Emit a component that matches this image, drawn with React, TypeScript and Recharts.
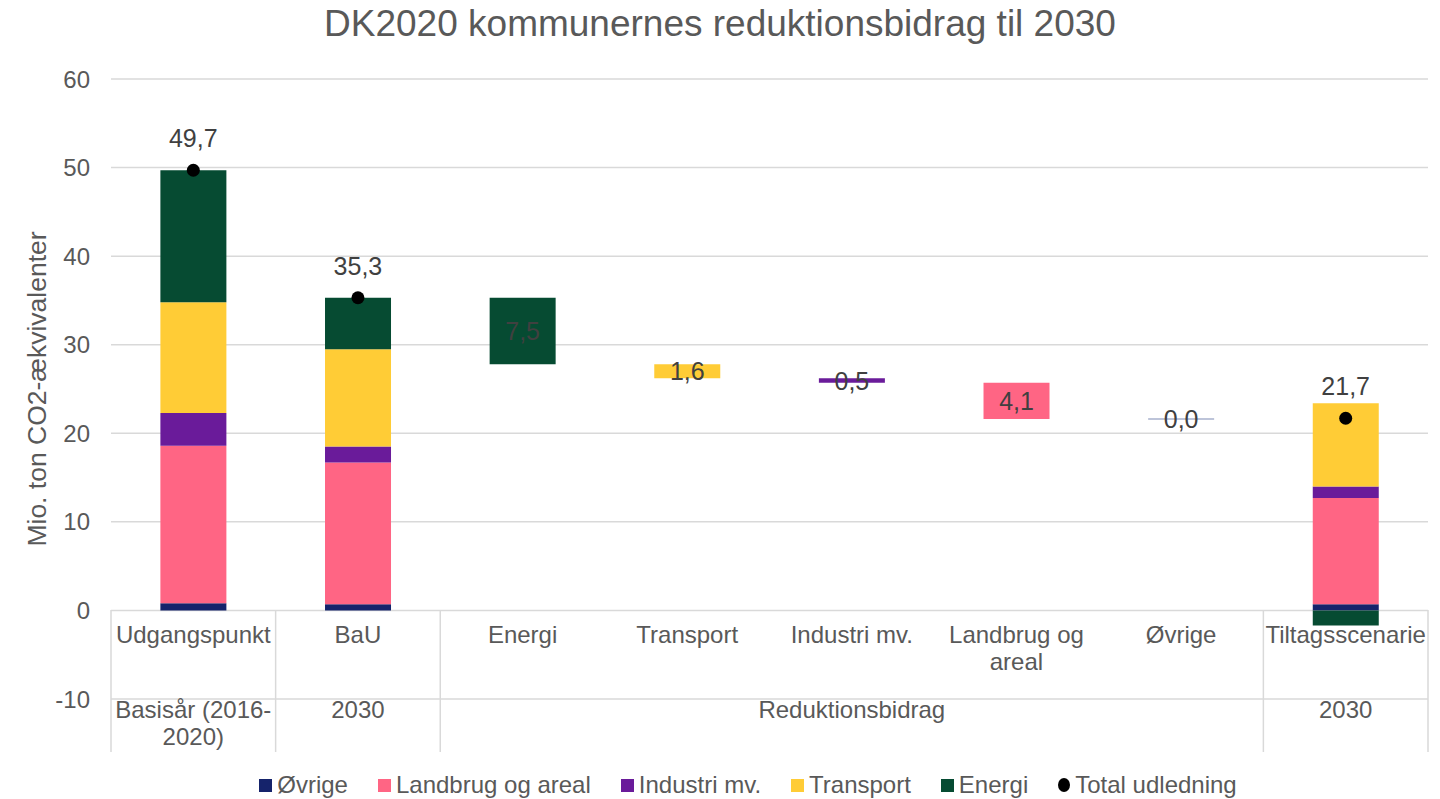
import React from "react";
import {
  ComposedChart,
  Bar,
  Line,
  XAxis,
  YAxis,
  CartesianGrid,
  Legend,
  LabelList,
  Rectangle,
} from "recharts";

const FONT = '"Liberation Sans", Arial, sans-serif';

// categories on the x axis
const categories = [
  "Udgangspunkt",
  "BaU",
  "Energi",
  "Transport",
  "Industri mv.",
  "Landbrug og areal",
  "Øvrige",
  "Tiltagsscenarie",
];
const tickLines = [
  ["Udgangspunkt"],
  ["BaU"],
  ["Energi"],
  ["Transport"],
  ["Industri mv."],
  ["Landbrug og", "areal"],
  ["Øvrige"],
  ["Tiltagsscenarie"],
];
const groupLabels = [
  ["Basisår (2016-", "2020)"],
  ["2030"],
  [],
  [],
  ["Reduktionsbidrag"],
  [],
  [],
  ["2030"],
];
const groupEnds = [0, 1, 6, 7];

// stacked series
const seriesNames = ["Øvrige", "Landbrug og areal", "Industri mv.", "Transport", "Energi"];
const seriesColors = ["#15236B", "#FF6584", "#6A1B9A", "#FFCC36", "#064B32"];

// the three full columns
const stackCategories = ["Udgangspunkt", "BaU", "Tiltagsscenarie"];
const ovrigeValues = [0.8, 0.7, 0.7];
const landbrugValues = [17.8, 16.0, 12.0];
const industriValues = [3.7, 1.8, 1.3];
const transportValues = [12.5, 11.0, 9.4];
const energiValues = [14.9, 5.8, -1.7];
const totalValues = [49.7, 35.3, 21.7];

// reductions from BaU
const reductionCategories = ["Energi", "Transport", "Industri mv.", "Landbrug og areal", "Øvrige"];
const reductionValues = [7.5, 1.6, 0.5, 4.1, 0.0];

const yTicks = [-10, 0, 10, 20, 30, 40, 50, 60];

const stackSeries = [ovrigeValues, landbrugValues, industriValues, transportValues, energiValues];

const stackRows = stackCategories.map((name, i) => {
  const row: any = { name, base: 0 };
  seriesNames.forEach((s, k) => {
    row[s] = stackSeries[k][i];
  });
  row.total = totalValues[i];
  return row;
});

let level = totalValues[1];
const reductionRows = reductionCategories.map((name, i) => {
  level -= reductionValues[i];
  const row: any = { name, base: level, total: null };
  seriesNames.forEach((s) => {
    row[s] = s === name ? reductionValues[i] : 0;
  });
  row["lbl:" + name] = reductionValues[i];
  return row;
});

const data = categories.map(
  (c) => stackRows.find((r) => r.name === c) || reductionRows.find((r) => r.name === c)
);

const fmt = (v: number) => v.toFixed(1).replace(".", ",");

const TEXT = "#595959";
const GRID = "#D9D9D9";
const FS = 24;

const CategoryTick = (props: any) => {
  const { x, y, index } = props;
  const step = (props.width || 1317) / categories.length;
  const lines = tickLines[index] || [];
  const groups = groupLabels[index] || [];
  return (
    <g>
      {index === 0 && (
        <line x1={x - step / 2} x2={x - step / 2} y1={y - 89} y2={y + 53} stroke={GRID} strokeWidth={1.5} />
      )}
      {groupEnds.includes(index) && (
        <line x1={x + step / 2} x2={x + step / 2} y1={y - 89} y2={y + 53} stroke={GRID} strokeWidth={1.5} />
      )}
      {lines.map((t, i) => (
        <text key={"c" + i} x={x} y={y - 56 + i * 27} textAnchor="middle" fontSize={FS} fill={TEXT}>
          {t}
        </text>
      ))}
      {groups.map((t, i) => (
        <text key={"g" + i} x={x} y={y + 19 + i * 27} textAnchor="middle" fontSize={FS} fill={TEXT}>
          {t}
        </text>
      ))}
    </g>
  );
};

const reductionLabel = (props: any) => {
  const { value } = props;
  if (value == null) return null;
  const vb = props.viewBox || props;
  return (
    <text
      x={vb.x + vb.width / 2}
      y={vb.y + vb.height / 2}
      textAnchor="middle"
      dominantBaseline="central"
      fontSize={25}
      fill="#404040"
    >
      {fmt(value)}
    </text>
  );
};

const totalLabel = (props: any) => {
  const { value } = props;
  if (value == null) return null;
  const vb = props.viewBox || props;
  return (
    <text x={vb.x + (vb.width || 0) / 2} y={vb.y - 23} textAnchor="middle" fontSize={25} fill="#404040">
      {fmt(value)}
    </text>
  );
};

// zero-height bar is drawn as a thin line, like Excel does
const OvrigeShape = (props: any) => {
  const { x, y, width, payload } = props;
  if (payload && payload.name === "Øvrige") {
    return <line x1={x} x2={x + width} y1={y} y2={y} stroke="#A7B0CC" strokeWidth={1.5} />;
  }
  return <Rectangle {...props} />;
};

const LegendContent = () => (
  <div
    style={{
      display: "flex",
      justifyContent: "center",
      alignItems: "center",
      gap: 30,
      height: 28,
      paddingLeft: 68,
      fontSize: FS,
      color: TEXT,
      fontFamily: FONT,
    }}
  >
    {seriesNames.map((s, i) => (
      <span key={s} style={{ display: "flex", alignItems: "center" }}>
        <span style={{ width: 13, height: 13, background: seriesColors[i], marginRight: 5 }} />
        {s}
      </span>
    ))}
    <span style={{ display: "flex", alignItems: "center" }}>
      <span style={{ width: 12, height: 14, borderRadius: "50%", background: "#000", marginRight: 5 }} />
      Total udledning
    </span>
  </div>
);

const App = () => {
  return (
    <div
      style={{
        position: "absolute",
        left: 0,
        top: 0,
        width: 1440,
        height: 799,
        background: "#fff",
        fontFamily: FONT,
      }}
    >
      <ComposedChart
        width={1440}
        height={799}
        data={data}
        margin={{ top: 79, right: 12, left: 0, bottom: 0 }}
        stackOffset="sign"
        barCategoryGap="30%"
      >
        <CartesianGrid vertical={false} stroke={GRID} strokeWidth={1.5} />
        <XAxis
          dataKey="name"
          axisLine={false}
          tickLine={false}
          tickSize={0}
          tickMargin={0}
          height={72}
          interval={0}
          tick={(p: any) => <CategoryTick {...p} />}
        />
        <YAxis
          domain={[-10, 60]}
          ticks={yTicks}
          width={111}
          axisLine={false}
          tickLine={false}
          tickSize={0}
          tickMargin={21}
          tick={{ fontSize: FS, fill: TEXT }}
          label={({ viewBox }: any) => {
            const cx = (viewBox?.x || 0) + 37;
            const cy = (viewBox?.y || 79) + (viewBox?.height || 620) / 2;
            return (
              <text
                x={cx}
                y={cy}
                transform={`rotate(-90, ${cx}, ${cy})`}
                textAnchor="middle"
                dominantBaseline="central"
                fontSize={26.5}
                fill={TEXT}
              >
                Mio. ton CO2-ækvivalenter
              </text>
            );
          }}
        />
        <Legend verticalAlign="bottom" height={28} content={() => <LegendContent />} />
        <Bar dataKey="base" stackId="a" fill="transparent" isAnimationActive={false} legendType="none" />
        {seriesNames.map((s, i) => (
          <Bar
            key={s}
            dataKey={s}
            name={s}
            stackId="a"
            fill={seriesColors[i]}
            isAnimationActive={false}
            shape={s === "Øvrige" ? (p: any) => <OvrigeShape {...p} /> : undefined}
          >
            <LabelList dataKey={"lbl:" + s} content={reductionLabel} />
          </Bar>
        ))}
        <Line
          dataKey="total"
          name="Total udledning"
          stroke="none"
          dot={{ r: 6.5, fill: "#000", stroke: "none" }}
          activeDot={false}
          isAnimationActive={false}
        >
          <LabelList dataKey="total" content={totalLabel} />
        </Line>
      </ComposedChart>
      <div
        style={{
          position: "absolute",
          top: 0,
          left: 0,
          width: 1440,
          textAlign: "center",
          fontSize: 37,
          lineHeight: "48px",
          color: TEXT,
        }}
      >
        DK2020 kommunernes reduktionsbidrag til 2030
      </div>
    </div>
  );
};

export default App;
